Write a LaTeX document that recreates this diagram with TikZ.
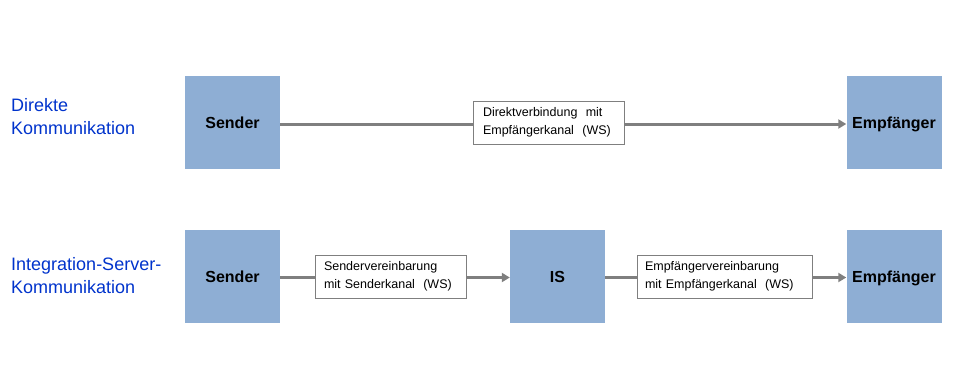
\documentclass[tikz,border=0pt]{standalone}
\usepackage{fontspec}
\setmainfont{Liberation Sans}
\usetikzlibrary{arrows.meta}
\definecolor{boxblue}{HTML}{8EAED4}
\definecolor{txtblue}{HTML}{0033CC}
\definecolor{linegray}{HTML}{7F7F7F}
\begin{document}
\begin{tikzpicture}[x=1pt,y=-1pt,
  party/.style={fill=boxblue,draw=none,minimum width=95pt,minimum height=93pt,inner sep=0pt,
    text height=11.5pt,text depth=0pt,
    font=\fontsize{16}{19}\selectfont\bfseries},
  lbl/.style={draw=linegray,fill=white,line width=0.8pt,inner sep=0pt,align=left,
    font=\fontsize{12.5}{18}\selectfont},
  conn/.style={draw=linegray,line width=3pt},
  arr/.style={conn,-{Triangle[length=8pt,width=9pt]}},
  side/.style={anchor=west,align=left,text=txtblue,inner sep=0pt,
    font=\fontsize{18}{23}\selectfont}]
\path[use as bounding box] (0,0) rectangle (960,378);
% row 1
\node[side] (t1) at (11,117) {Direkte\\Kommunikation};
\node[party] (s1) at (232.5,122.5) {Sender};
\node[party] (e1) at (894,122.5) {Empfänger};
\node[lbl,minimum width=151pt,minimum height=43pt,text width=131pt] (l1) at (548.5,122.5) {Direktverbindung\ \ mit\\Empfängerkanal\ \ (WS)};
\draw[conn] (s1.east |- 0,124) -- (l1.west |- 0,124);
\draw[arr] (l1.east |- 0,124) -- (e1.west |- 0,124);
% row 2
\node[side] (t2) at (11,276) {Integration-Server-\\Kommunikation};
\node[party] (s2) at (232.5,276.5) {Sender};
\node[party] (is) at (557.5,276.5) {IS};
\node[party] (e2) at (894,276.5) {Empfänger};
\node[lbl,minimum width=151pt,minimum height=43pt,text width=133pt] (l2) at (390.5,276.5) {Sendervereinbarung\\mit Senderkanal\ \ (WS)};
\node[lbl,minimum width=175pt,minimum height=43pt,text width=159pt] (l3) at (724.5,276.5) {Empfängervereinbarung\\mit Empfängerkanal\ \ (WS)};
\draw[conn] (s2.east |- 0,277.5) -- (l2.west |- 0,277.5);
\draw[arr] (l2.east |- 0,277.5) -- (is.west |- 0,277.5);
\draw[conn] (is.east |- 0,277.5) -- (l3.west |- 0,277.5);
\draw[arr] (l3.east |- 0,277.5) -- (e2.west |- 0,277.5);
\end{tikzpicture}
\end{document}
